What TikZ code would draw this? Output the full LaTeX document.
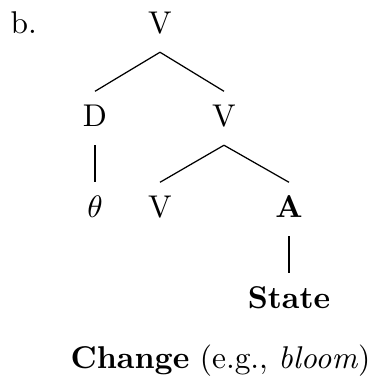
\documentclass[tikz,border=0pt]{standalone}
\begin{document}
\begin{tikzpicture}[x=0.3226pt,y=-0.3226pt,
  every node/.style={font=\fontsize{10.15pt}{12pt}\selectfont},
  tn/.style={inner sep=0pt, outer sep=0pt, text height=11.2pt, text depth=6.2pt, anchor=base},
  edge/.style={line width=0.4pt}]
\path[use as bounding box] (0,0) rectangle (371,378);
\node[inner sep=0pt, anchor=base west] (lab) at (10,33) {b.};
\node[tn] (v1) at (160,33) {V};
\node[tn] (d) at (95,126) {D};
\node[tn] (v2) at (224,126) {V};
\node[tn] (th) at (95,217) {$\theta$};
\node[tn] (v3) at (160,217) {V};
\node[tn] (a) at (289,217) {\textbf{A}};
\node[tn] (st) at (289,308) {\textbf{State}};
\node[inner sep=0pt, anchor=base] (cap) at (220.5,368) {\textbf{Change} (e.g., \textit{bloom})};
\draw[edge] (v1.south) -- (d.north);
\draw[edge] (v1.south) -- (v2.north);
\draw[edge] (d.south) -- (d.south |- th.north);
\draw[edge] (v2.south) -- (v3.north);
\draw[edge] (v2.south) -- (a.north);
\draw[edge] (a.south) -- (a.south |- st.north);
\end{tikzpicture}
\end{document}
